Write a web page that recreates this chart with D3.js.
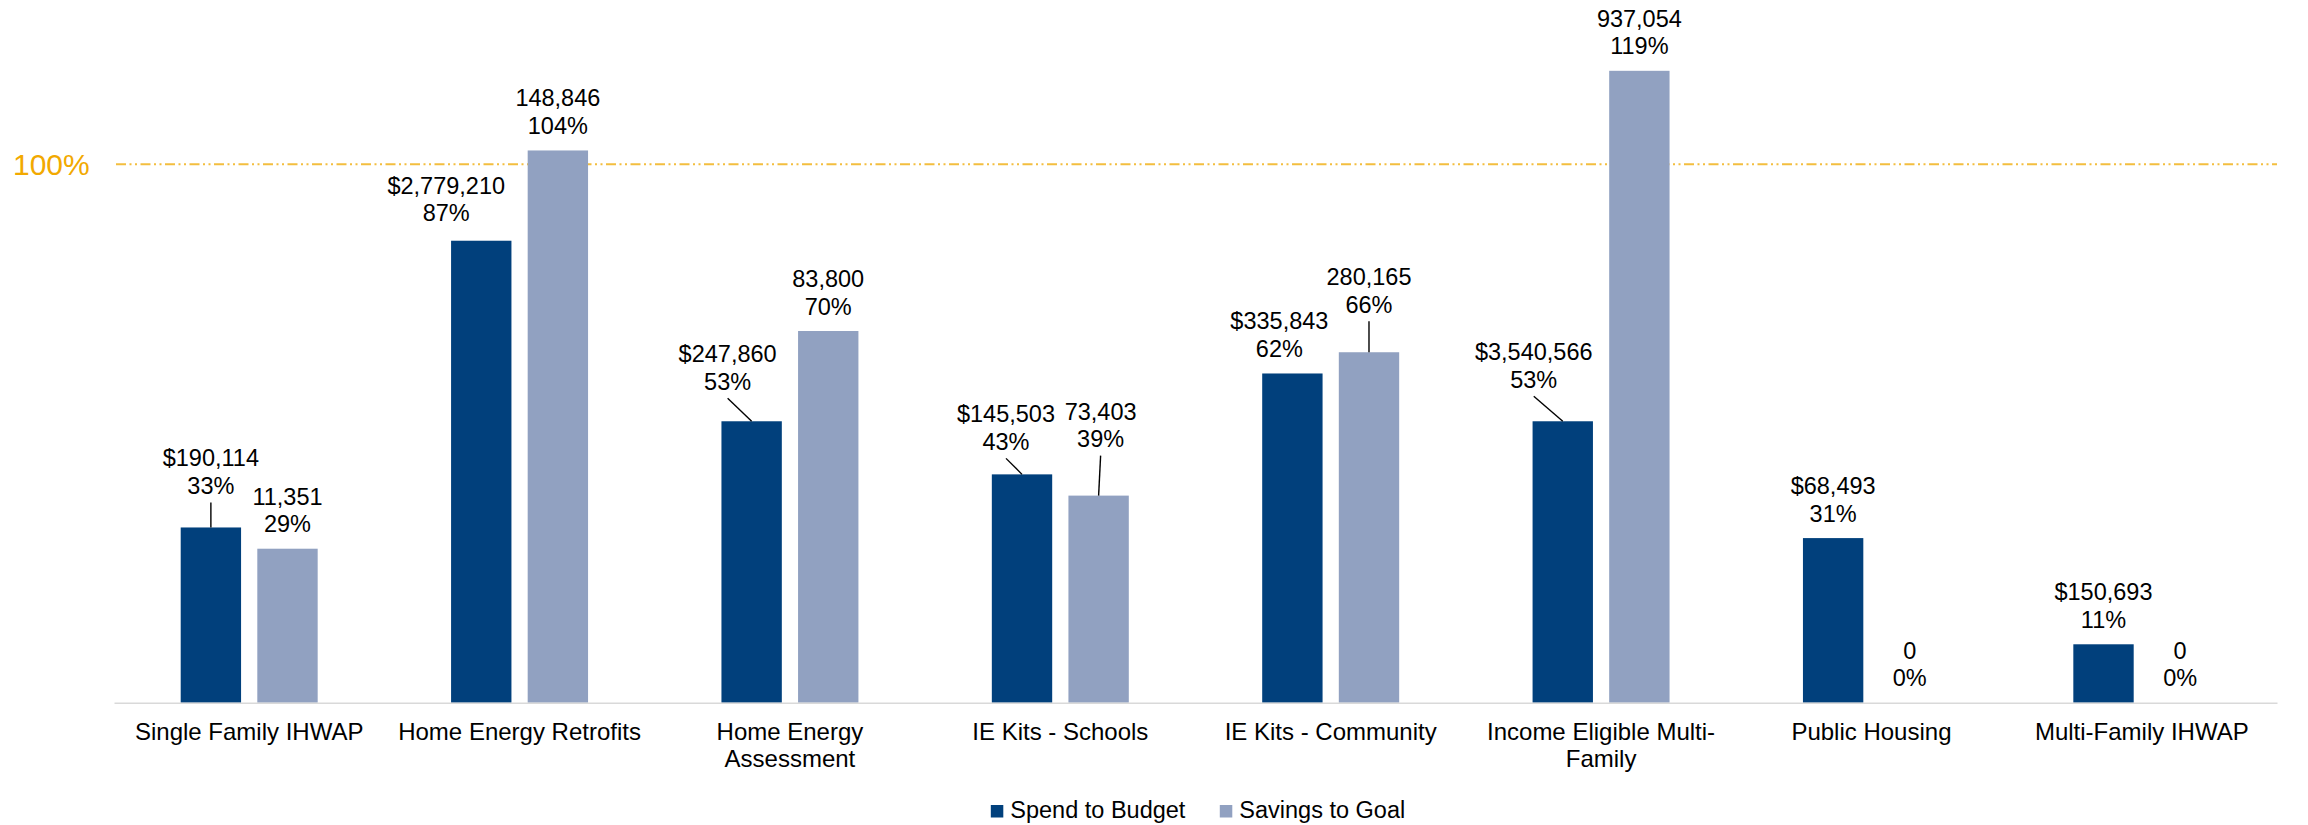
<!DOCTYPE html>
<html>
<head>
<meta charset="utf-8">
<script src="https://cdn.jsdelivr.net/npm/d3@7"></script>
<style>
  body { margin: 0; background: #fff; }
  text { font-family: "Liberation Sans", Arial, sans-serif; }
</style>
</head>
<body>
<div id="chart"></div>
<script>
// data
const categories = ["Single Family IHWAP", "Home Energy Retrofits", "Home Energy Assessment",
  "IE Kits - Schools", "IE Kits - Community", "Income Eligible Multi-Family",
  "Public Housing", "Multi-Family IHWAP"];
const series = ["Spend to Budget", "Savings to Goal"];
const spendPct = [0.33, 0.87, 0.53, 0.43, 0.62, 0.53, 0.31, 0.11];
const spendAmt = [190114, 2779210, 247860, 145503, 335843, 3540566, 68493, 150693];
const savingsPct = [0.29, 1.04, 0.70, 0.39, 0.66, 1.19, 0, 0];
const savingsAmt = [11351, 148846, 83800, 73403, 280165, 937054, 0, 0];
const targetPct = 1;

// hand-moved data labels (dx, dy in px), like in the original
const spendShift = [[0, -17], [-35, -3], [-24, -15], [-16, -8], [-13, 0], [-29, -17], [0, 0], [0, 0]];
const savingsShift = [[0, 0], [0, 0], [0, 0], [2, -32], [0, -23], [0, 0], [0, 0], [0, 0]];

const colors = ["#01407C", "#91A1C1"];
const width = 2308, height = 825;
const fs = 23.5;

var svg = d3.select("#chart").append("svg").attr("width", width).attr("height", height);

var x0 = d3.scaleBand().domain(categories).range([114, 2277]);
var x1 = d3.scaleBand().domain(series).range([66.7, x0.bandwidth() - 66.7]).paddingInner(0.212);
var y = d3.scaleLinear().domain([0, 1]).range([702.7, 171.7]);
var fmt = d3.format(",");

var rows = categories.map(function (c, i) {
  return [
    { cat: c, s: series[0], v: spendPct[i], amt: "$" + fmt(spendAmt[i]), shift: spendShift[i] },
    { cat: c, s: series[1], v: savingsPct[i], amt: fmt(savingsAmt[i]), shift: savingsShift[i] }
  ];
});
var items = rows.flat();

// 100% target line (sits a little above the 100% mark in the original)
var ty = y(targetPct) - 7.5;
svg.append("line")
  .attr("x1", 116).attr("x2", 2277)
  .attr("y1", ty).attr("y2", ty)
  .attr("stroke", "#F3BE3F").attr("stroke-width", 2)
  .attr("stroke-dasharray", "10,3.5,2,3.5,2,3.5");
svg.append("text")
  .attr("x", 13).attr("y", ty + 11)
  .attr("font-size", 30).attr("fill", "#F2A900")
  .text(d3.format(".0%")(targetPct));

// bars
svg.append("g").selectAll("rect")
  .data(items)
  .enter().append("rect")
  .attr("x", d => x0(d.cat) + x1(d.s))
  .attr("width", x1.bandwidth())
  .attr("y", d => y(d.v))
  .attr("height", d => y(0) - y(d.v))
  .attr("fill", d => colors[series.indexOf(d.s)]);

// axis
var axis = svg.append("g")
  .attr("transform", "translate(0," + y(0) + ")")
  .call(d3.axisBottom(x0).tickSize(0).tickPadding(0));
axis.select(".domain").attr("stroke", "#D9D9D9").attr("stroke-width", 1.5);
axis.selectAll(".tick text")
  .attr("font-size", 24)
  .attr("font-family", "Liberation Sans, Arial, sans-serif")
  .attr("fill", "#000")
  .each(function (d) { wrap(d3.select(this), d, 250); });

function wrap(t, str, maxW) {
  // split on spaces and after hyphens
  var tokens = [];
  str.split(" ").forEach(function (w) {
    var parts = w.split(/(?<=-)/);
    parts.forEach(function (p, k) { tokens.push({ w: p, sp: k == 0 }); });
  });
  t.text(null);
  var lines = [], cur = "";
  tokens.forEach(function (tk) {
    var test = cur == "" ? tk.w : cur + (tk.sp ? " " : "") + tk.w;
    t.text(test);
    if (t.node().getComputedTextLength() > maxW && cur != "") {
      lines.push(cur); cur = tk.w;
    } else cur = test;
  });
  lines.push(cur);
  t.text(null).attr("y", null).attr("dy", null);
  lines.forEach(function (l, i) {
    t.append("tspan").attr("x", 0).attr("y", 37.5 + i * 27.3).text(l);
  });
}

// leader lines for moved labels
svg.append("g").selectAll("line")
  .data(items.filter(d => d.shift[1] <= -7))
  .enter().append("line")
  .attr("x1", d => x0(d.cat) + x1(d.s) + x1.bandwidth() / 2 + d.shift[0])
  .attr("y1", d => y(d.v) - 8 + d.shift[1])
  .attr("x2", d => x0(d.cat) + x1(d.s) + x1.bandwidth() / 2)
  .attr("y2", d => y(d.v))
  .attr("stroke", "#000").attr("stroke-width", 1.4);

// data labels
var lab = svg.append("g").selectAll("text")
  .data(items)
  .enter().append("text")
  .attr("text-anchor", "middle")
  .attr("font-size", fs)
  .attr("fill", "#000");
lab.append("tspan")
  .attr("x", d => x0(d.cat) + x1(d.s) + x1.bandwidth() / 2 + d.shift[0])
  .attr("y", d => y(d.v) - 25 + d.shift[1] - 27.5 + 8.5)
  .text(d => d.amt);
lab.append("tspan")
  .attr("x", d => x0(d.cat) + x1(d.s) + x1.bandwidth() / 2 + d.shift[0])
  .attr("y", d => y(d.v) - 25 + d.shift[1] + 8.5)
  .text(d => d3.format(".0%")(d.v));

// legend
var leg = svg.append("g");
var lx = 0;
series.forEach(function (s, i) {
  var g = leg.append("g").attr("transform", "translate(" + lx + ",0)");
  g.append("rect").attr("x", 0).attr("y", -12.5).attr("width", 12.5).attr("height", 12.5).attr("fill", colors[i]);
  var t = g.append("text").attr("x", 19.5).attr("y", 0).attr("font-size", fs).attr("fill", "#000").text(s);
  lx += 19.5 + t.node().getComputedTextLength() + 34.4;
});
var legW = lx - 34.4;
leg.attr("transform", "translate(" + (1198 - legW / 2) + ",817.5)");
</script>
</body>
</html>
